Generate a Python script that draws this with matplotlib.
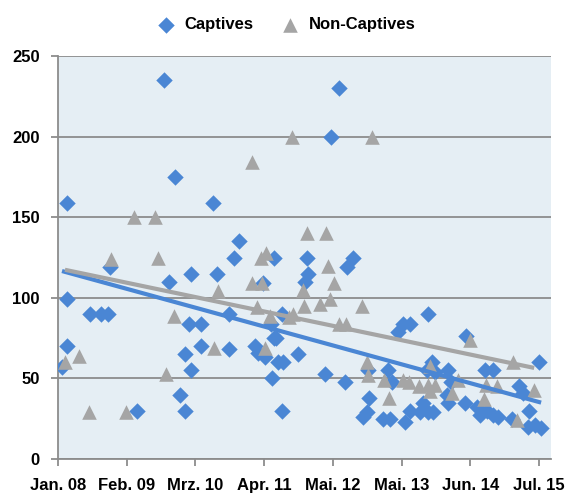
import matplotlib.pyplot as plt
import numpy as np

# months since Jan. 08, value
cap_x = [0.75, 1.7, 1.7, 1.7, 6.0, 8.0, 9.4, 9.7, 14.8, 19.8, 20.8, 21.9, 22.8, 23.8, 23.8,
         24.5, 24.9, 24.9, 26.8, 26.8, 29.0, 29.8, 32.0, 32.0, 32.9, 33.9, 36.9, 37.4, 38.4,
         38.7, 39.9, 40.0, 40.4, 40.8, 40.4, 41.2, 42.1, 41.9, 41.9, 44.9, 46.2, 46.8, 46.6,
         50.0, 51.1, 52.6, 53.7, 54.1, 55.2, 58.0, 58.2, 57.8, 57.1, 60.8, 62.1, 62.5, 63.6,
         64.6, 65.9, 64.9, 65.9, 67.7, 68.3, 69.2, 70.2, 69.2, 70.0, 69.0, 70.5, 73.0, 73.5,
         72.8, 73.0, 76.2, 76.3, 79.9, 81.4, 78.4, 79.0, 80.3, 81.4, 82.3, 85.0, 86.3, 87.0,
         88.1, 88.0, 89.3, 90.4, 90.0, 61.8]
cap_y = [57, 70, 99, 159, 90, 90, 90, 119, 30, 235, 110, 175, 40, 30, 65,
         84, 55, 115, 84, 70, 159, 115, 90, 68, 125, 135, 70, 66, 109,
         63, 84, 50, 75, 75, 125, 60, 60, 30, 90, 65, 110, 115, 125,
         53, 200, 230, 48, 119, 125, 55, 38, 29, 26, 25, 25, 48, 79,
         84, 84, 23, 30, 29, 35, 29, 29, 90, 60, 55, 54, 55, 48,
         40, 35, 35, 76, 55, 55, 32, 27, 30, 27, 26, 25, 45, 41,
         30, 20, 21, 19, 60, 55]

non_x = [1.3, 3.9, 5.8, 9.9, 12.7, 14.2, 18.2, 18.7, 20.2, 21.7, 29.2, 29.9, 36.3, 36.3,
         38.2, 37.2, 38.0, 38.9, 38.7, 39.7, 43.2, 43.8, 44.0, 45.8, 46.0, 46.6, 49.0, 50.2,
         50.5, 50.9, 51.6, 52.6, 53.9, 56.9, 58.8, 57.8, 58.0, 61.0, 61.9, 64.6, 65.7, 67.6,
         69.2, 70.5, 69.6, 69.6, 74.8, 73.7, 77.1, 80.1, 82.1, 79.7, 85.1, 85.9, 89.1]
non_y = [60, 64, 29, 124, 29, 150, 150, 125, 53, 89, 69, 104, 184, 109,
         109, 94, 125, 128, 69, 89, 88, 200, 90, 105, 95, 140, 96, 140,
         120, 99, 109, 84, 84, 95, 200, 60, 52, 49, 38, 49, 48, 45,
         46, 46, 58, 42, 49, 41, 74, 46, 45, 37, 60, 24, 43]

tick_labels = ['Jan. 08', 'Feb. 09', 'Mrz. 10', 'Apr. 11', 'Mai. 12', 'Mai. 13', 'Jun. 14', 'Jul. 15']

blue = '#4A86D4'
gray = '#A5A5A5'
grid = '#8C8C8C'

plt.rcParams['font.family'] = ['Liberation Sans', 'DejaVu Sans']
plt.rcParams['font.weight'] = 'bold'

fig = plt.figure(figsize=(5.65, 4.96), dpi=100)
ax = fig.add_axes([58 / 565, 1 - 459 / 496, (551 - 58) / 565, (459 - 56) / 496])
ax.set_facecolor('#E5EEF4')

ax.scatter(cap_x, cap_y, marker='D', s=70, color=blue, linewidths=0, label='Captives', zorder=3)
ax.scatter(non_x, non_y, marker='^', s=110, color=gray, linewidths=0, label='Non-Captives', zorder=3)

# linear trend lines
for xs, ys, c in [(cap_x, cap_y, blue), (non_x, non_y, gray)]:
    k, d = np.polyfit(xs, ys, 1)
    xx = np.array([min(xs), max(xs)])
    ax.plot(xx, k * xx + d, color=c, lw=3, zorder=4, solid_capstyle='butt')

ax.set_xlim(0, 92.25)
ax.set_ylim(0, 250)
ax.set_xticks(np.linspace(0, 90, 8))
ax.set_xticklabels(tick_labels, fontweight='bold')
ax.set_yticks(range(0, 251, 50))
ax.set_yticklabels([str(v) for v in range(0, 251, 50)], fontweight='bold')
ax.yaxis.grid(True, color=grid, lw=1.3)
ax.set_axisbelow(True)

for s in ['top', 'right']:
    ax.spines[s].set_visible(False)
for s in ['left', 'bottom']:
    ax.spines[s].set_color(grid)
    ax.spines[s].set_linewidth(1.3)
ax.tick_params(axis='both', colors=grid, length=5, width=1.3, labelsize=12, labelcolor='black')
ax.tick_params(axis='y', pad=8)
ax.tick_params(axis='x', pad=9)

fig.legend(loc='upper center', bbox_to_anchor=(0.5, 0.995), ncol=2, frameon=False,
           prop={'size': 12, 'weight': 'bold'}, handletextpad=0.1, columnspacing=1.2,
           scatterpoints=1)

fig.savefig('out.png', dpi=100)
